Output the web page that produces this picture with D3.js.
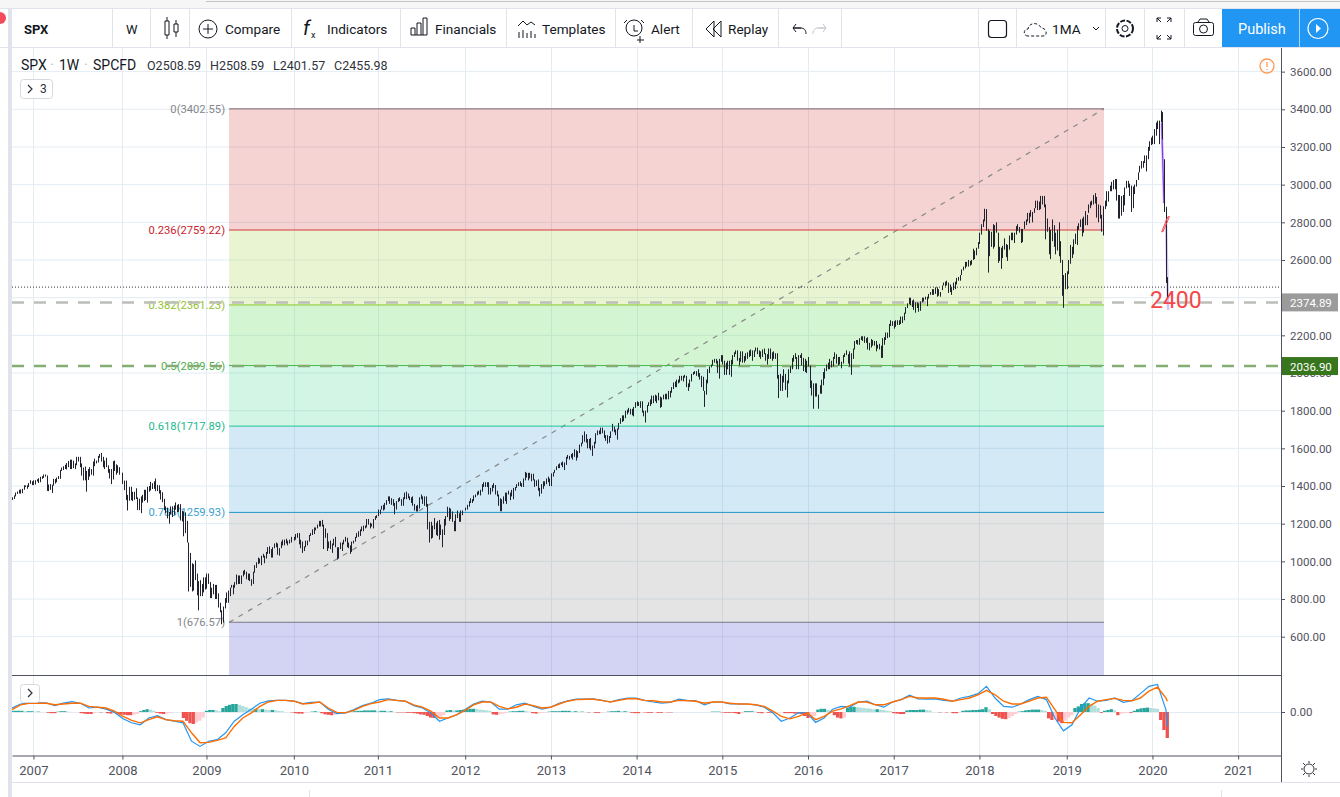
<!DOCTYPE html>
<html>
<head>
<meta charset="utf-8">
<script src="https://cdn.jsdelivr.net/npm/d3@7"></script>
<style>
  html, body { margin: 0; padding: 0; background: #fff; overflow: hidden; }
  text { font-family: Roboto, "Noto Sans", sans-serif; }
</style>
</head>
<body>
<script>
// weekly [low, high], one list per calendar year
var range2006 = [[1326,1340],[1331,1350],[1345,1365],[1358,1371],[1360,1380],[1360,1382],[1362,1385],[1380,1404],[1395,1403],[1385,1404],[1395,1416],[1412,1431],[1405,1425]];
var range2007 = [[1405,1430],[1408,1431],[1424,1436],[1416,1441],[1420,1449],[1438,1452],[1443,1461],[1450,1461],[1374,1456],[1373,1408],[1380,1410],[1363,1407],[1402,1438],[1413,1437],[1420,1445],[1437,1453],[1438,1485],[1480,1498],[1485,1505],[1490,1513],[1488,1522],[1500,1533],[1490,1540],[1490,1540],[1495,1535],[1490,1520],[1510,1555],[1530,1555],[1500,1555],[1455,1520],[1430,1498],[1430,1503],[1370,1480],[1432,1490],[1450,1500],[1460,1490],[1455,1530],[1505,1545],[1520,1535],[1525,1560],[1550,1570],[1530,1576],[1500,1555],[1490,1535],[1500,1550],[1470,1510],[1440,1490],[1410,1490],[1435,1532],[1480,1535],[1460,1515],[1470,1510],[1460,1500]];
var range2008 = [[1411,1471],[1378,1429],[1325,1429],[1270,1353],[1322,1396],[1325,1396],[1320,1369],[1327,1370],[1331,1388],[1272,1340],[1272,1333],[1256,1345],[1312,1353],[1320,1380],[1326,1380],[1312,1396],[1370,1400],[1376,1422],[1384,1415],[1385,1425],[1373,1440],[1373,1406],[1360,1404],[1328,1378],[1314,1367],[1272,1332],[1257,1292],[1228,1285],[1200,1262],[1248,1292],[1235,1292],[1247,1297],[1274,1313],[1261,1300],[1263,1304],[1217,1304],[1212,1269],[1133,1265],[1150,1260],[1100,1215],[840,1100],[865,1045],[840,990],[845,985],[900,1005],[820,935],[740,895],[815,900],[815,880],[835,915],[850,915],[855,890]];
var range2009 = [[860,935],[880,935],[805,890],[805,860],[825,880],[800,875],[800,875],[755,830],[730,780],[666,740],[675,760],[750,805],[780,835],[780,845],[815,860],[860,875],[825,875],[860,890],[877,930],[880,925],[880,925],[880,925],[920,950],[930,955],[905,945],[900,935],[895,935],[870,905],[880,945],[940,980],[965,995],[985,1020],[990,1015],[980,1030],[1020,1040],[990,1030],[1015,1050],[1040,1075],[1040,1080],[1020,1065],[1020,1075],[1070,1095],[1075,1100],[1035,1095],[1030,1070],[1070,1105],[1085,1115],[1085,1115],[1095,1120],[1085,1110],[1095,1115],[1100,1130]];
var range2010 = [[1110,1130],[1115,1145],[1125,1150],[1090,1150],[1070,1115],[1045,1105],[1055,1080],[1075,1110],[1085,1110],[1105,1140],[1135,1150],[1140,1170],[1145,1180],[1165,1180],[1175,1195],[1185,1215],[1185,1215],[1185,1220],[1065,1195],[1125,1175],[1055,1150],[1070,1105],[1065,1110],[1045,1095],[1085,1120],[1075,1130],[1010,1075],[1015,1075],[1065,1100],[1055,1100],[1090,1115],[1105,1130],[1075,1125],[1070,1100],[1040,1085],[1050,1105],[1095,1110],[1105,1130],[1125,1150],[1130,1160],[1135,1170],[1160,1185],[1160,1190],[1175,1190],[1180,1225],[1195,1225],[1175,1205],[1185,1200],[1175,1225],[1220,1240],[1230,1245],[1240,1260],[1250,1270]];
var range2011 = [[1250,1275],[1260,1275],[1275,1295],[1270,1300],[1275,1310],[1300,1325],[1320,1345],[1305,1345],[1300,1335],[1295,1330],[1250,1310],[1275,1320],[1315,1335],[1320,1340],[1295,1330],[1295,1340],[1330,1365],[1330,1370],[1335,1360],[1325,1345],[1310,1340],[1295,1345],[1270,1305],[1265,1295],[1265,1300],[1280,1340],[1330,1355],[1305,1345],[1295,1345],[1290,1345],[1170,1305],[1100,1210],[1120,1210],[1125,1190],[1170,1230],[1140,1205],[1135,1215],[1115,1220],[1140,1195],[1075,1170],[1140,1225],[1190,1240],[1235,1290],[1215,1285],[1225,1280],[1210,1265],[1160,1215],[1160,1250],[1230,1270],[1210,1255],[1210,1270],[1245,1270]];
var range2012 = [[1270,1285],[1275,1300],[1290,1320],[1310,1335],[1310,1330],[1320,1350],[1340,1355],[1350,1370],[1355,1375],[1350,1380],[1370,1410],[1395,1420],[1395,1420],[1395,1420],[1355,1420],[1355,1390],[1370,1405],[1390,1415],[1355,1405],[1345,1375],[1295,1355],[1266,1335],[1266,1330],[1306,1345],[1320,1365],[1305,1365],[1355,1375],[1325,1365],[1345,1380],[1330,1390],[1375,1395],[1390,1410],[1400,1420],[1400,1425],[1395,1415],[1395,1440],[1430,1475],[1445,1470],[1430,1470],[1440,1470],[1425,1465],[1430,1465],[1395,1435],[1400,1430],[1375,1435],[1345,1390],[1360,1410],[1385,1425],[1400,1425],[1410,1440],[1420,1450],[1400,1440],[1405,1450]];
var range2013 = [[1400,1467],[1450,1473],[1470,1486],[1485,1505],[1495,1515],[1495,1520],[1510,1525],[1500,1530],[1485,1525],[1512,1555],[1545,1565],[1540,1560],[1550,1570],[1540,1575],[1555,1595],[1535,1590],[1550,1585],[1575,1620],[1610,1630],[1625,1670],[1635,1690],[1630,1675],[1600,1650],[1600,1650],[1590,1655],[1560,1615],[1600,1635],[1625,1680],[1670,1695],[1675,1695],[1675,1710],[1680,1710],[1655,1695],[1640,1670],[1625,1670],[1630,1665],[1655,1690],[1690,1730],[1685,1715],[1670,1700],[1646,1705],[1700,1735],[1730,1760],[1740,1775],[1745,1775],[1760,1800],[1780,1805],[1790,1815],[1780,1810],[1775,1810],[1770,1820],[1815,1845]];
var range2014 = [[1825,1850],[1825,1845],[1815,1850],[1790,1850],[1770,1800],[1737,1800],[1790,1830],[1825,1845],[1825,1860],[1835,1880],[1840,1880],[1850,1885],[1840,1880],[1855,1895],[1815,1875],[1820,1870],[1860,1885],[1860,1890],[1860,1890],[1860,1905],[1870,1905],[1895,1925],[1915,1950],[1925,1955],[1925,1965],[1945,1965],[1950,1985],[1960,1985],[1955,1985],[1975,1990],[1925,1985],[1905,1945],[1925,1965],[1955,1995],[1990,2005],[1995,2010],[1985,2010],[1980,2020],[1965,2000],[1925,1985],[1905,1980],[1820,1905],[1885,1965],[1945,2020],[2000,2035],[2030,2045],[2040,2070],[2055,2075],[2050,2075],[2000,2065],[1970,2075],[2060,2095]];
var range2015 = [[2045,2095],[1990,2065],[1990,2055],[2020,2065],[1990,2065],[1980,2070],[2045,2095],[2085,2110],[2100,2120],[2065,2120],[2040,2080],[2060,2115],[2055,2115],[2055,2090],[2065,2105],[2075,2110],[2085,2120],[2090,2125],[2065,2120],[2085,2120],[2115,2135],[2100,2135],[2085,2120],[2075,2115],[2085,2125],[2100,2130],[2065,2105],[2045,2100],[2075,2130],[2075,2130],[2065,2110],[2075,2115],[2075,2105],[1970,2105],[1867,1990],[1905,1995],[1905,1985],[1950,2020],[1910,1995],[1870,1960],[1945,2020],[2000,2035],[2020,2080],[2060,2095],[2075,2105],[2020,2085],[2020,2095],[2080,2095],[2040,2105],[2010,2080],[2005,2075],[2000,2065]];
var range2016 = [[2035,2085],[1920,2040],[1880,1960],[1810,1945],[1875,1945],[1875,1945],[1810,1885],[1890,1935],[1890,1965],[1935,2005],[1970,2025],[2010,2045],[2020,2055],[2020,2075],[2030,2065],[2035,2085],[2075,2110],[2050,2100],[2040,2085],[2045,2085],[2025,2060],[2050,2095],[2085,2105],[2095,2120],[2050,2100],[2035,2115],[1990,2105],[2075,2130],[2125,2170],[2155,2175],[2150,2175],[2150,2185],[2175,2195],[2170,2195],[2160,2195],[2160,2185],[2125,2190],[2120,2160],[2135,2180],[2145,2175],[2145,2170],[2115,2170],[2130,2150],[2125,2155],[2080,2145],[2080,2185],[2150,2190],[2175,2215],[2185,2215],[2190,2260],[2250,2280],[2250,2275]];
var range2017 = [[2235,2275],[2245,2280],[2255,2280],[2255,2280],[2260,2300],[2265,2300],[2280,2320],[2315,2350],[2345,2370],[2365,2400],[2360,2400],[2350,2385],[2335,2390],[2320,2375],[2345,2375],[2325,2370],[2330,2380],[2375,2400],[2380,2400],[2390,2405],[2355,2405],[2395,2420],[2415,2430],[2415,2445],[2415,2445],[2420,2455],[2405,2455],[2410,2445],[2405,2430],[2440,2465],[2465,2480],[2460,2485],[2465,2490],[2425,2480],[2430,2470],[2415,2455],[2440,2480],[2445,2485],[2470,2505],[2490,2510],[2490,2520],[2520,2550],[2545,2565],[2555,2590],[2565,2590],[2565,2600],[2570,2595],[2575,2600],[2600,2660],[2605,2650],[2625,2665],[2660,2695]];
var range2018 = [[2685,2745],[2735,2790],[2775,2815],[2805,2872],[2755,2870],[2533,2765],[2620,2755],[2670,2750],[2660,2790],[2670,2785],[2745,2800],[2585,2745],[2595,2670],[2553,2665],[2610,2675],[2655,2715],[2615,2685],[2595,2680],[2655,2730],[2705,2745],[2705,2745],[2690,2745],[2735,2780],[2755,2790],[2745,2775],[2690,2765],[2695,2765],[2765,2805],[2785,2815],[2805,2850],[2795,2850],[2830,2865],[2800,2855],[2850,2875],[2875,2915],[2865,2915],[2865,2910],[2870,2940],[2895,2940],[2880,2940],[2710,2895],[2750,2820],[2630,2775],[2605,2760],[2700,2815],[2670,2785],[2630,2745],[2650,2760],[2620,2800],[2585,2700],[2410,2600],[2346,2520],[2445,2530]];
var range2019 = [[2445,2540],[2525,2600],[2580,2680],[2610,2670],[2630,2710],[2685,2740],[2680,2780],[2760,2795],[2775,2815],[2725,2820],[2745,2830],[2785,2860],[2785,2840],[2850,2895],[2875,2910],[2890,2915],[2895,2945],[2900,2955],[2825,2935],[2800,2895],[2820,2890],[2750,2840],[2730,2885],[2870,2915],[2885,2965],[2910,2965],[2965,2995],[2965,3015],[2975,3025],[2975,3030],[2915,3030],[2820,2945],[2820,2945],[2835,2940],[2855,2945],[2890,2985],[2980,3020],[2985,3020],[2940,3005],[2855,2995],[2875,2990],[2950,3000],[2990,3025],[3025,3065],[3065,3100],[3085,3125],[3090,3125],[3115,3155],[3070,3155],[3135,3200],[3180,3230],[3210,3250]];
var range2020 = [[3215,3260],[3215,3295],[3260,3330],[3295,3340],[3215,3340],[3330,3393],[3240,3385],[2855,3135],[2478,2882],[2401,2509]];

var yearRanges = [range2007, range2008, range2009, range2010, range2011, range2012, range2013, range2014, range2015, range2016, range2017, range2018, range2019, range2020];
var yearLabels = [2007, 2008, 2009, 2010, 2011, 2012, 2013, 2014, 2015, 2016, 2017, 2018, 2019, 2020, 2021];
var yearBars = [13, 67, 118, 171, 222, 275, 327, 379, 431, 483, 535, 587, 640, 692, 744];
var priceTicks = [600, 800, 1000, 1200, 1400, 1600, 1800, 2000, 2200, 2400, 2600, 2800, 3000, 3200, 3400, 3600];
// 2400.00 sits fully under the grey price tag in the picture
var priceLabels = priceTicks.filter(function (d) { return d !== 2400; });

// fibonacci drawing
var fibStartBar = 131.7, fibEndBar = 662.6, fibFloor = 394;
var fibRatios = ["0", "0.236", "0.382", "0.5", "0.618", "0.786", "1"];
var fibPrices = [3402.55, 2759.22, 2361.23, 2039.56, 1717.89, 1259.93, 676.57];
var fibLineColors = ["#806c6c", "#d8393a", "#8ac926", "#3fba45", "#1fc79a", "#2196c9", "#787b86"];
var fibTextColors = ["#85868c", "#c8232c", "#93c230", "#4caf50", "#1cb98e", "#3a9fd1", "#85868c"];
var fibBandColors = ["rgba(211,79,75,.25)", "rgba(167,215,75,.25)", "rgba(83,215,75,.25)", "rgba(75,215,155,.25)", "rgba(79,167,215,.25)", "rgba(147,147,147,.25)", "rgba(79,83,207,.25)"];

// MACD pane, one reading every macdStep bars
var macdStep = 5.187;
var macdLine = [10,20,22,23,23,16,22,26,22,10,12,7,-1,-17,-27,-32,-15,-9,-19,-23,-27,-73,-86,-73,-69,-52,-23,-7,7,22,28,29,29,27,21,24,25,7,-4,-2,6,16,22,31,33,29,27,16,10,-2,-23,-15,-7,6,20,27,25,7,7,18,22,14,7,12,22,28,32,32,33,29,25,31,35,35,29,25,22,24,
  32,29,28,18,25,25,20,20,20,18,12,-2,-23,-15,-2,-2,-26,-15,7,14,12,25,27,18,12,25,31,42,33,32,33,29,27,35,39,46,64,35,14,12,20,31,39,31,-15,-47,-32,10,35,27,29,35,24,28,46,64,69,5,-36];
var signalLine = [6,18,22,22,22,18,20,22,22,14,12,10,2,-11,-21,-27,-19,-12,-19,-22,-23,-52,-77,-76,-71,-65,-36,-15,-2,14,25,29,29,27,20,22,25,10,-1,-2,4,14,21,25,31,29,27,18,12,2,-15,-15,-7,4,18,25,25,14,8,12,20,16,10,12,20,27,31,32,32,29,25,29,33,33,29,28,25,25,
  29,28,27,22,25,25,22,20,20,18,14,2,-11,-17,-11,-2,-19,-11,2,8,16,25,25,18,18,25,31,39,35,35,35,32,27,31,35,43,54,43,27,20,20,27,35,37,6,-26,-27,-7,14,27,31,34,29,28,35,52,62,35,27];
// histogram reading every second bar, the early part counted from the left edge, the late part from the last bar
var macdHistEarly = [3,3,3,3,2,2,2,1,1,0,0,-2,-3,-3,1,2,2,1,0,0,0,-3,-4,-5,-5,-3,0,-1,0,-3,-4,-3,-4,-6,-7,-8,-8,-7,-5,2,5,7,6,3,-2,-4,-5,-4,-2,0,0,0,-15,-22,-28,-30,-26,-22,-14,3,5,5,4,2,10,15,18,20,20,18,15,12,9,8,8,7,7,6,5,5,4,3,2,0,0,-1,-3,-4,-4,-2,0,1,2,1,-3,-6,-7,-8,-7,-4,-1,0,0,1,2,3,3,4,4,4,4,3,3,3,2,2,0,-1,-1,-1,-2,-2,-3,-4,-6,-7,-10,-14,-15,-14,-12,-8,4,5,4,4,5,6,7,8,8,7,6,5,4,3,-6,-7,-6,-4,-2,1,2,2,3,3,2,1,-3,-4,-3,-2,-1,1,2,2,2,3,3,3,2,2,1,1,0,-1,0,-2,-2,-1,0,1,2,2,3,2,2,1,-2,-3,-3,-1,-1,-2,-2,-1,-2,-2,-1,-1,-1];
var macdHistLate = [0,1,1,1,-1,-2,-2,-2,-3,-5,-3,2,2,2,1,-2,-3,-1,-2,-2,-1,0,0,-3,-3,-3,-4,-4,-5,-10,-15,-14,-10,6,8,8,5,0,-8,-14,-16,-14,10,13,13,12,11,10,9,8,7,7,6,5,3,2,-3,-4,-5,-5,4,5,5,5,6,6,5,4,0,0,-1,0,-1,0,-3,-3,-2,3,4,4,5,5,6,7,12,7,-5,-10,-14,-17,-18,-15,-10,-5,1,2,4,5,6,6,6,5,3,-16,-20,-18,-24,-28,-22,-14,-8,10,14,20,22,22,20,16,10,-2,3,5,7,4,-8,-4,-3,-2,-2,3,7,9,10,11,10,9,8,-20,-45,-65];

// last price, alert lines and the hand-drawn marks
var legendValues = ["O2508.59", "H2508.59", "L2401.57", "C2455.98"];
var legendX = [147, 210, 273, 334];
var lastClose = 2455.98;
var alertLevels = [{ price: 2374.89, line: "#bcbfb8", tag: "#9b9b9b" }, { price: 2036.9, line: "#84ad74", tag: "#38761d" }];
var purpleMarks = [[[697.6, 3326], [699, 2901]], [[700.2, 2812], [701.5, 2334]]];
var redOutline = [[697.6, 2750], [701.4, 2830], [702.3, 2830], [698.4, 2750]];

var width = 1340, height = 797;
var plotLeft = 12, plotRight = 1281;
var svg = d3.select("body").append("svg").attr("width", width).attr("height", height).style("display", "block");

var x = d3.scaleLinear().domain([0, 770]).range([plotLeft, plotRight]);
var y = d3.scaleLinear().domain([fibFloor, 3730.8]).range([675.5, 47]);
var macdY = d3.scaleLinear().domain([-100, 100]).range([752, 672]);

svg.append("defs").append("clipPath").attr("id", "plotClip").append("rect")
    .attr("x", plotLeft).attr("y", 47).attr("width", plotRight - plotLeft).attr("height", 628.5);

// grid
var gridColor = "#e3ecf3";
svg.append("g").selectAll("line").data(yearBars).enter().append("line")
    .attr("x1", function (d) { return Math.round(x(d)) + 0.5; })
    .attr("x2", function (d) { return Math.round(x(d)) + 0.5; })
    .attr("y1", 47).attr("y2", 755).attr("stroke", gridColor);
svg.append("g").selectAll("line").data(priceTicks).enter().append("line")
    .attr("x1", plotLeft).attr("x2", plotRight)
    .attr("y1", function (d) { return y(d); }).attr("y2", function (d) { return y(d); })
    .attr("stroke", gridColor);
svg.append("line").attr("x1", plotLeft).attr("x2", plotRight)
    .attr("y1", macdY(0) + 0.5).attr("y2", macdY(0) + 0.5).attr("stroke", gridColor);

// fib bands, lines and labels
var fibEdges = fibPrices.concat([fibFloor]);
svg.append("g").selectAll("rect").data(fibPrices).enter().append("rect")
    .attr("x", x(fibStartBar)).attr("width", x(fibEndBar) - x(fibStartBar))
    .attr("y", function (d) { return y(d); })
    .attr("height", function (d, i) { return y(fibEdges[i + 1]) - y(d); })
    .attr("fill", function (d, i) { return fibBandColors[i]; });
svg.append("line")
    .attr("x1", x(fibStartBar)).attr("y1", y(fibPrices[6]))
    .attr("x2", x(fibEndBar)).attr("y2", y(fibPrices[0]))
    .attr("stroke", "#8a8a8a").attr("stroke-width", 1.2).attr("stroke-dasharray", "5,6");
svg.append("g").selectAll("line").data(fibPrices).enter().append("line")
    .attr("x1", x(fibStartBar)).attr("x2", x(fibEndBar))
    .attr("y1", function (d) { return y(d); }).attr("y2", function (d) { return y(d); })
    .attr("stroke", function (d, i) { return fibLineColors[i]; });
svg.append("g").selectAll("text").data(fibPrices).enter().append("text")
    .attr("x", x(fibStartBar) - 4).attr("y", function (d) { return y(d) + 4; })
    .attr("text-anchor", "end").attr("font-size", 11.2)
    .attr("fill", function (d, i) { return fibTextColors[i]; })
    .text(function (d, i) { return fibRatios[i] + "(" + d3.format(".2f")(d) + ")"; });

// alert lines
svg.append("g").selectAll("line").data(alertLevels).enter().append("line")
    .attr("x1", plotLeft).attr("x2", plotRight)
    .attr("y1", function (d) { return y(d.price); }).attr("y2", function (d) { return y(d.price); })
    .attr("stroke", function (d) { return d.line; })
    .attr("stroke-width", 2.5).attr("stroke-dasharray", "12,10");
svg.append("line").attr("x1", plotLeft).attr("x2", plotRight)
    .attr("y1", y(lastClose)).attr("y2", y(lastClose))
    .attr("stroke", "#30333c").attr("stroke-dasharray", "1,2");

// purple marks go under the bars, so the last weeks stay dark
var markLine = d3.line().x(function (d) { return x(d[0]); }).y(function (d) { return y(d[1]); });
svg.append("g").selectAll("path").data(purpleMarks).enter().append("path")
    .attr("d", markLine).attr("fill", "none").attr("stroke", "#c9a6f5").attr("stroke-width", 2.5).attr("opacity", 0.7);
svg.append("path").attr("d", markLine(purpleMarks[0])).attr("fill", "none").attr("stroke", "#8040e8").attr("stroke-width", 1.2);

// weekly bars
var bars = range2006.map(function (d, i) { return { bar: i, low: d[0], high: d[1] }; });
yearRanges.forEach(function (list, k) {
    list.forEach(function (d, i) { bars.push({ bar: yearBars[k] + i, low: d[0], high: d[1] }); });
});
svg.append("g").attr("clip-path", "url(#plotClip)").selectAll("line").data(bars).enter().append("line")
    .attr("x1", function (d) { return Math.round(x(d.bar)) + 0.5; })
    .attr("x2", function (d) { return Math.round(x(d.bar)) + 0.5; })
    .attr("y1", function (d) { return y(d.low); }).attr("y2", function (d) { return y(d.high); })
    .attr("stroke", "#20232e").attr("stroke-width", 1);

// red mark and note on top of the bars
svg.append("path").attr("d", markLine(redOutline) + "Z").attr("fill", "none").attr("stroke", "#f4484a").attr("stroke-width", 1);
svg.append("text").attr("x", 1150).attr("y", 308).attr("font-size", 23).attr("fill", "#f4484a").text("2400");

// MACD pane
var histBars = macdHistEarly.map(function (v, j) { return { bar: j * 2, v: v, prev: j ? macdHistEarly[j - 1] : v }; });
macdHistLate.forEach(function (v, j) {
    histBars.push({ bar: 701 - 2 * (macdHistLate.length - 1 - j), v: v, prev: j ? macdHistLate[j - 1] : v });
});
function histColor(d) {
    if (d.v >= 0) { return d.v >= d.prev ? "#26a69a" : "#b2dfdb"; }
    return d.v <= d.prev ? "#ef5350" : "#ffcdd2";
}
svg.append("g").selectAll("rect").data(histBars).enter().append("rect")
    .attr("x", function (d) { return x(d.bar - 1); })
    .attr("width", x(2) - x(0))
    .attr("y", function (d) { return Math.min(macdY(d.v), macdY(0)); })
    .attr("height", function (d) { return Math.abs(macdY(d.v) - macdY(0)); })
    .attr("fill", histColor);
var macdPath = d3.line()
    .x(function (d, i) { return x(Math.min(i * macdStep, 701)); })
    .y(function (d) { return macdY(d); });
svg.append("path").attr("d", macdPath(macdLine)).attr("fill", "none").attr("stroke", "#2196f3").attr("stroke-width", 1.2);
svg.append("path").attr("d", macdPath(signalLine)).attr("fill", "none").attr("stroke", "#ff6d00").attr("stroke-width", 1.4);

// axes
var axisInk = "#50535e";
var priceAxis = svg.append("g").attr("transform", "translate(" + plotRight + ",0)")
    .call(d3.axisRight(y).tickValues(priceLabels).tickSize(4).tickSizeOuter(0).tickPadding(5).tickFormat(d3.format(".2f")));
var macdAxis = svg.append("g").attr("transform", "translate(" + plotRight + ",0)")
    .call(d3.axisRight(macdY).tickValues([0]).tickSize(4).tickSizeOuter(0).tickPadding(5).tickFormat(d3.format(".2f")));
var yearAxis = svg.append("g").attr("transform", "translate(0,755.5)")
    .call(d3.axisBottom(x).tickValues(yearBars).tickSize(4).tickSizeOuter(0).tickPadding(6)
        .tickFormat(function (d) { return yearLabels[yearBars.indexOf(d)]; }));
[priceAxis, macdAxis, yearAxis].forEach(function (a) {
    a.selectAll("text").attr("font-size", 11.5).attr("font-family", "Roboto").attr("fill", axisInk);
    a.selectAll("line,path").attr("stroke", axisInk);
});
yearAxis.selectAll("text").attr("font-size", 13);
svg.append("line").attr("x1", plotLeft).attr("x2", plotRight).attr("y1", 675.5).attr("y2", 675.5).attr("stroke", axisInk);
svg.append("line").attr("x1", plotRight + 0.5).attr("x2", plotRight + 0.5).attr("y1", 47).attr("y2", 782).attr("stroke", axisInk);

// price tags over the axis
var tags = svg.append("g").selectAll("g").data(alertLevels).enter().append("g");
tags.append("rect").attr("x", plotRight + 1).attr("width", 56).attr("height", 18)
    .attr("y", function (d) { return y(d.price) - 9; }).attr("fill", function (d) { return d.tag; });
tags.append("text").attr("x", plotRight + 9).attr("y", function (d) { return y(d.price) + 4.5; })
    .attr("font-size", 11.5).attr("fill", "#fff").text(function (d) { return d3.format(".2f")(d.price); });

// legend
svg.append("text").attr("x", 21).attr("y", 70).attr("font-size", 14).attr("fill", "#131722").text("SPX");
svg.append("text").attr("x", 50).attr("y", 70).attr("font-size", 14).attr("fill", "#b4b7c0").text("·");
svg.append("text").attr("x", 59).attr("y", 70).attr("font-size", 14).attr("fill", "#131722").text("1W");
svg.append("text").attr("x", 84).attr("y", 70).attr("font-size", 14).attr("fill", "#b4b7c0").text("·");
svg.append("text").attr("x", 93).attr("y", 70).attr("font-size", 14).attr("fill", "#131722").text("SPCFD");
svg.append("g").selectAll("text").data(legendValues).enter().append("text")
    .attr("x", function (d, i) { return legendX[i]; }).attr("y", 70)
    .attr("font-size", 12.5).attr("fill", "#30333c").text(function (d) { return d; });
svg.append("rect").attr("x", 20.5).attr("y", 79.5).attr("width", 32).attr("height", 19).attr("rx", 3).attr("fill", "#fff").attr("stroke", "#d6d8e0");
svg.append("path").attr("d", "M28 85l4 4-4 4").attr("fill", "none").attr("stroke", "#30333c").attr("stroke-width", 1.2);
svg.append("text").attr("x", 40).attr("y", 93).attr("font-size", 12).attr("fill", "#30333c").text("3");
svg.append("rect").attr("x", 20.5).attr("y", 684.5).attr("width", 19).attr("height", 18).attr("rx", 3).attr("fill", "#fff").attr("stroke", "#d6d8e0");
svg.append("path").attr("d", "M28 689l4 4-4 4").attr("fill", "none").attr("stroke", "#30333c").attr("stroke-width", 1.2);
svg.append("circle").attr("cx", 1267).attr("cy", 66).attr("r", 7).attr("fill", "none").attr("stroke", "#ff9850").attr("stroke-width", 1.3);
svg.append("path").attr("d", "M1267 62v5M1267 69v1").attr("stroke", "#ff9850").attr("stroke-width", 1.3);

// window chrome: toolbar and edges
var ruleColor = "#e0e3eb";
svg.append("rect").attr("x", 0).attr("y", 0).attr("width", width).attr("height", 8).attr("fill", "#f6f6f6");
svg.append("line").attr("x1", 206).attr("x2", width).attr("y1", 1.5).attr("y2", 1.5).attr("stroke", "#c4c4c4");
svg.append("line").attr("x1", 0).attr("x2", width).attr("y1", 8.5).attr("y2", 8.5).attr("stroke", ruleColor);
svg.append("line").attr("x1", 0).attr("x2", width).attr("y1", 47.5).attr("y2", 47.5).attr("stroke", ruleColor);
svg.append("rect").attr("x", 8).attr("y", 8).attr("width", 4).attr("height", 789).attr("fill", ruleColor);
svg.append("line").attr("x1", 12).attr("x2", width).attr("y1", 782.5).attr("y2", 782.5).attr("stroke", ruleColor);
svg.append("path").attr("d", "M309.5 790V797M1221.5 790V797").attr("stroke", ruleColor);
svg.append("circle").attr("cx", 0).attr("cy", 18).attr("r", 6).attr("fill", "#f44a5c");

var toolbarDividers = [112, 150, 189, 291, 400, 506, 615, 692, 778, 841, 978, 1016, 1105, 1144, 1184];
svg.append("g").selectAll("line").data(toolbarDividers).enter().append("line")
    .attr("x1", function (d) { return d + 0.5; }).attr("x2", function (d) { return d + 0.5; })
    .attr("y1", 9).attr("y2", 47).attr("stroke", ruleColor);
svg.append("rect").attr("x", 1222).attr("y", 9).attr("width", 118).attr("height", 38).attr("fill", "#2196f3");
svg.append("line").attr("x1", 1299.5).attr("x2", 1299.5).attr("y1", 9).attr("y2", 47).attr("stroke", "#fff").attr("stroke-opacity", 0.6);

var toolbarNames = ["SPX", "W", "Compare", "Indicators", "Financials", "Templates", "Alert", "Replay", "1MA"];
var toolbarX = [24, 126, 225, 327, 435, 542, 651, 728, 1052];
svg.append("g").selectAll("text").data(toolbarNames).enter().append("text")
    .attr("x", function (d, i) { return toolbarX[i]; }).attr("y", 34)
    .attr("font-size", function (d, i) { return i < 2 ? 13 : 13.6; })
    .attr("font-weight", function (d, i) { return i === 0 ? 700 : 400; })
    .attr("fill", "#131722").text(function (d) { return d; });
svg.append("text").attr("x", 1238).attr("y", 34).attr("font-size", 14.5).attr("fill", "#fff").text("Publish");
svg.append("text").attr("x", 303).attr("y", 35).attr("font-size", 20).attr("font-style", "italic").attr("font-family", "Liberation Serif").attr("fill", "#131722").text("f");
svg.append("text").attr("x", 311).attr("y", 38).attr("font-size", 9).attr("fill", "#131722").text("x");

var iconPaths = [
    "M165 21h4v14h-4zM167 17v4M167 35v4M174 24h4v8h-4zM176 20v4M176 32v5",             // candle
    "M208 24v10M203 29h10",                                                            // plus
    "M411 35h16M411 35v-7h4v7M417 35v-12h4v12M423 35v-17h4v17",                        // financials
    "M518 26l5-5 4 4 4-3 4 3M519 38v-6M523 38v-8M527 38v-5M531 38v-7M535 38v-4",       // templates
    "M640 36v7M637 40h7M627 20l-3 3M641 20l3 3M634 25v6h4",                            // alert
    "M714 21l-8 8 8 8zM721 21l-8 8 8 8z",                                              // replay
    "M801 28h-8l3-4M793 28l3 4M793 28h8c3 0 5 2 5 6",                                  // undo
    "M1099 27l-3 3-3-3",                                                               // chevron
    "M1157 22v-4h4M1157 18l4 4M1171 18h-4M1171 18v4M1171 18l-4 4M1157 35v4h4M1157 39l4-4M1171 39h-4M1171 39v-4M1171 39l-4-4"  // fullscreen
];
svg.append("g").selectAll("path").data(iconPaths).enter().append("path")
    .attr("d", function (d) { return d; }).attr("fill", "none").attr("stroke", "#131722").attr("stroke-width", 1);
svg.append("path").attr("d", "M818 28h8l-3-4M826 28l-3 4M826 28h-8c-3 0-5 2-5 6").attr("fill", "none").attr("stroke", "#c4c6cc");
svg.append("circle").attr("cx", 208).attr("cy", 29).attr("r", 9).attr("fill", "none").attr("stroke", "#131722");
svg.append("circle").attr("cx", 634).attr("cy", 28).attr("r", 8).attr("fill", "none").attr("stroke", "#131722");
svg.append("rect").attr("x", 988.5).attr("y", 20.5).attr("width", 18).attr("height", 17).attr("rx", 3).attr("fill", "none").attr("stroke", "#131722").attr("stroke-width", 1.2);
svg.append("path").attr("d", "M1028 36c-5 0-5-7 0-7 1-7 11-7 13-1 6 0 7 8 2 8z").attr("fill", "none").attr("stroke", "#131722").attr("stroke-dasharray", "3,2");
svg.append("circle").attr("cx", 1125).attr("cy", 28.5).attr("r", 8).attr("fill", "none").attr("stroke", "#131722").attr("stroke-dasharray", "5,1.5").attr("stroke-width", 2);
svg.append("circle").attr("cx", 1125).attr("cy", 28.5).attr("r", 3).attr("fill", "none").attr("stroke", "#131722");
svg.append("rect").attr("x", 1193.5).attr("y", 22.5).attr("width", 20).attr("height", 13).attr("rx", 2).attr("fill", "none").attr("stroke", "#131722");
svg.append("path").attr("d", "M1198 22l2-3h7l2 3").attr("fill", "none").attr("stroke", "#131722");
svg.append("circle").attr("cx", 1203.5).attr("cy", 29).attr("r", 4).attr("fill", "none").attr("stroke", "#131722");
svg.append("circle").attr("cx", 1318).attr("cy", 28.5).attr("r", 10).attr("fill", "none").attr("stroke", "#fff").attr("stroke-width", 1.2);
svg.append("path").attr("d", "M1316 24l5 4.5-5 4.5z").attr("fill", "#fff");
svg.append("circle").attr("cx", 1309).attr("cy", 769).attr("r", 5).attr("fill", "none").attr("stroke", "#30333c");
svg.append("path").attr("d", "M1309 761v2M1309 775v2M1301 769h2M1315 769h2M1303 763l2 2M1313 773l2 2M1315 763l-2 2M1303 775l2-2").attr("stroke", "#30333c");
</script>
</body>
</html>
